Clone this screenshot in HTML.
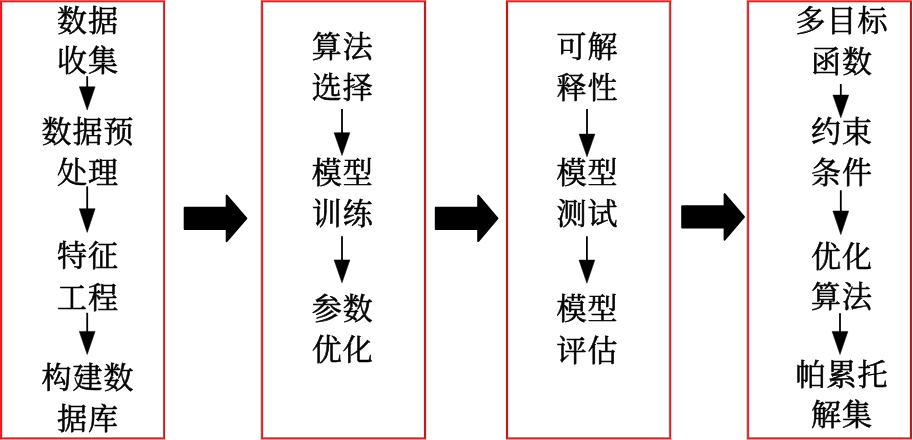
<!DOCTYPE html><html lang="zh"><head><meta charset="utf-8"><title>流程图</title><style>html,body{margin:0;padding:0;background:#fff}svg{display:block}text{font-family:"Liberation Serif", "Noto Serif CJK SC", serif;font-size:30px;fill:#000;text-anchor:middle;letter-spacing:1px;font-weight:400;stroke:#000;stroke-width:0.55px}svg{will-change:transform}</style></head><body>
<svg width="913" height="440" viewBox="0 0 913 440">
<rect width="913" height="440" fill="#fff"/>
<g shape-rendering="crispEdges">
<rect x="0" y="0" width="1" height="440" fill="#ee1e24"/>
<rect x="1" y="0" width="1" height="440" fill="#cd2328"/>
<rect x="2" y="0" width="1" height="440" fill="#fbdcdc"/>
<rect x="162" y="0" width="1" height="440" fill="#fdeaea"/>
<rect x="163" y="0" width="1" height="440" fill="#b24a4e"/>
<rect x="164" y="0" width="1" height="440" fill="#a22a2e"/>
<rect x="165" y="0" width="1" height="440" fill="#fdeaea"/>
<rect x="0" y="0" width="165" height="1" fill="#ff5555"/>
<rect x="0" y="1" width="165" height="1" fill="#c42d30"/>
<rect x="2" y="2" width="161" height="1" fill="#f4bcbc"/>
<rect x="2" y="437" width="161" height="1" fill="#d07c7e"/>
<rect x="0" y="438" width="165" height="1" fill="#b43236"/>
<rect x="0" y="439" width="165" height="1" fill="#ff8787"/>
<rect x="260" y="0" width="1" height="440" fill="#ffc4c4"/>
<rect x="261" y="0" width="1" height="440" fill="#c04448"/>
<rect x="262" y="0" width="1" height="440" fill="#ad363a"/>
<rect x="263" y="0" width="1" height="440" fill="#f3dada"/>
<rect x="423" y="0" width="1" height="440" fill="#fbe4e4"/>
<rect x="424" y="0" width="1" height="440" fill="#c3191e"/>
<rect x="425" y="0" width="1" height="440" fill="#c3191e"/>
<rect x="426" y="0" width="1" height="440" fill="#fbe4e4"/>
<rect x="261" y="0" width="165" height="1" fill="#ff5555"/>
<rect x="261" y="1" width="165" height="1" fill="#c42d30"/>
<rect x="263" y="2" width="161" height="1" fill="#f4bcbc"/>
<rect x="263" y="437" width="161" height="1" fill="#d07c7e"/>
<rect x="261" y="438" width="165" height="1" fill="#b43236"/>
<rect x="261" y="439" width="165" height="1" fill="#ff8787"/>
<rect x="505" y="0" width="1" height="440" fill="#fbe4e4"/>
<rect x="506" y="0" width="1" height="440" fill="#c3191e"/>
<rect x="507" y="0" width="1" height="440" fill="#c3191e"/>
<rect x="508" y="0" width="1" height="440" fill="#fbe4e4"/>
<rect x="668" y="0" width="1" height="440" fill="#f3dada"/>
<rect x="669" y="0" width="1" height="440" fill="#b9585c"/>
<rect x="670" y="0" width="1" height="440" fill="#ad363a"/>
<rect x="671" y="0" width="1" height="440" fill="#ffc0c0"/>
<rect x="506" y="0" width="165" height="1" fill="#ff5555"/>
<rect x="506" y="1" width="165" height="1" fill="#c42d30"/>
<rect x="508" y="2" width="161" height="1" fill="#f4bcbc"/>
<rect x="508" y="437" width="161" height="1" fill="#d07c7e"/>
<rect x="506" y="438" width="165" height="1" fill="#b43236"/>
<rect x="506" y="439" width="165" height="1" fill="#ff8787"/>
<rect x="746" y="0" width="1" height="440" fill="#ffc0c0"/>
<rect x="747" y="0" width="1" height="440" fill="#c04448"/>
<rect x="748" y="0" width="1" height="440" fill="#b04045"/>
<rect x="749" y="0" width="1" height="440" fill="#f3dada"/>
<rect x="909" y="0" width="1" height="440" fill="#fbe4e4"/>
<rect x="910" y="0" width="1" height="440" fill="#c3191e"/>
<rect x="911" y="0" width="1" height="440" fill="#c3191e"/>
<rect x="912" y="0" width="1" height="440" fill="#fdeeee"/>
<rect x="747" y="0" width="165" height="1" fill="#ff5555"/>
<rect x="747" y="1" width="165" height="1" fill="#c42d30"/>
<rect x="749" y="2" width="161" height="1" fill="#f4bcbc"/>
<rect x="749" y="437" width="161" height="1" fill="#d07c7e"/>
<rect x="747" y="438" width="165" height="1" fill="#b43236"/>
<rect x="747" y="439" width="165" height="1" fill="#ff8787"/>
</g>
<defs><filter id="soft" x="-5%" y="-5%" width="110%" height="110%"><feGaussianBlur stdDeviation="0.4"/></filter></defs><g filter="url(#soft)">
<text transform="translate(88 31.33) scale(1 1)">数据</text>
<text transform="translate(88 71.33) scale(1 1)">收集</text>
<text transform="translate(88 142.30) scale(1 1)">数据预</text>
<text transform="translate(88 183.40) scale(1 1)">处理</text>
<text transform="translate(88 266.30) scale(1 1)">特征</text>
<text transform="translate(88 307.55) scale(1 1)">工程</text>
<text transform="translate(88 388.40) scale(1 1)">构建数</text>
<text transform="translate(88 429.45) scale(1 1)">据库</text>
<text transform="translate(342.8 57.30) scale(1 1)">算法</text>
<text transform="translate(342.8 98.45) scale(1 1)">选择</text>
<text transform="translate(342.8 183.45) scale(1 1)">模型</text>
<text transform="translate(342.8 223.60) scale(1 1)">训练</text>
<text transform="translate(342.8 319.40) scale(1 1)">参数</text>
<text transform="translate(342.8 360.45) scale(1 1)">优化</text>
<text transform="translate(587.5 57.40) scale(1 1)">可解</text>
<text transform="translate(587.5 98.45) scale(1 1)">释性</text>
<text transform="translate(587.5 183.45) scale(1 1)">模型</text>
<text transform="translate(587.5 223.55) scale(1 1)">测试</text>
<text transform="translate(587.5 319.25) scale(1 1)">模型</text>
<text transform="translate(587.5 360.60) scale(1 1)">评估</text>
<text transform="translate(842 31.33) scale(1 1)">多目标</text>
<text transform="translate(842 71.60) scale(1 1)">函数</text>
<text transform="translate(842 142.45) scale(1 1)">约束</text>
<text transform="translate(842 183.30) scale(1 1)">条件</text>
<text transform="translate(842 266.60) scale(1 1)">优化</text>
<text transform="translate(842 307.30) scale(1 1)">算法</text>
<text transform="translate(842 384.50) scale(1 1)">帕累托</text>
<text transform="translate(842 425.30) scale(1 1)">解集</text>
</g>
<line x1="87.2" y1="76.25" x2="87.2" y2="88.8" stroke="#000" stroke-width="1.8"/>
<polygon points="79.3,86.8 95.1,86.8 87.2,110" fill="#000" stroke="#000" stroke-width="0.5" stroke-linejoin="round"/>
<line x1="87.2" y1="186.4" x2="87.2" y2="210.7" stroke="#000" stroke-width="1.8"/>
<polygon points="79.3,208.7 95.1,208.7 87.2,232.4" fill="#000" stroke="#000" stroke-width="0.5" stroke-linejoin="round"/>
<line x1="87.2" y1="312.8" x2="87.2" y2="333.4" stroke="#000" stroke-width="1.8"/>
<polygon points="79.3,331.4 95.1,331.4 87.2,354.5" fill="#000" stroke="#000" stroke-width="0.5" stroke-linejoin="round"/>
<line x1="342" y1="108.9" x2="342" y2="134.7" stroke="#000" stroke-width="1.8"/>
<polygon points="334.1,132.7 349.9,132.7 342,155.5" fill="#000" stroke="#000" stroke-width="0.5" stroke-linejoin="round"/>
<line x1="342" y1="236.3" x2="342" y2="261.9" stroke="#000" stroke-width="1.8"/>
<polygon points="334.1,259.9 349.9,259.9 342,282.8" fill="#000" stroke="#000" stroke-width="0.5" stroke-linejoin="round"/>
<line x1="587" y1="108.9" x2="587" y2="136.1" stroke="#000" stroke-width="1.8"/>
<polygon points="579.1,134.1 594.9,134.1 587,156.8" fill="#000" stroke="#000" stroke-width="0.5" stroke-linejoin="round"/>
<line x1="586.9" y1="236.3" x2="586.9" y2="262.1" stroke="#000" stroke-width="1.8"/>
<polygon points="579,260.1 594.8,260.1 586.9,283.2" fill="#000" stroke="#000" stroke-width="0.5" stroke-linejoin="round"/>
<line x1="840.8" y1="84" x2="840.8" y2="97.1" stroke="#000" stroke-width="1.8"/>
<polygon points="832.9,95.1 848.7,95.1 840.8,117.8" fill="#000" stroke="#000" stroke-width="0.5" stroke-linejoin="round"/>
<line x1="840.8" y1="190.3" x2="840.8" y2="213" stroke="#000" stroke-width="1.8"/>
<polygon points="832.9,211 848.7,211 840.8,234.6" fill="#000" stroke="#000" stroke-width="0.5" stroke-linejoin="round"/>
<line x1="840" y1="313.2" x2="840" y2="333.4" stroke="#000" stroke-width="1.8"/>
<polygon points="832.1,331.4 847.9,331.4 840,354.5" fill="#000" stroke="#000" stroke-width="0.5" stroke-linejoin="round"/>
<polygon points="184.70,207.80 184.70,229.00 226.70,229.00 226.70,241.16 246.33,218.40 226.70,195.64 226.70,207.80" fill="#000" stroke="#000" stroke-width="2" stroke-linejoin="round"/>
<polygon points="435.80,207.80 435.80,229.00 478.20,229.00 478.20,241.12 497.44,218.40 478.20,195.68 478.20,207.80" fill="#000" stroke="#000" stroke-width="2" stroke-linejoin="round"/>
<polygon points="682.20,206.30 682.20,227.50 724.60,227.50 724.60,239.63 743.94,216.90 724.60,194.17 724.60,206.30" fill="#000" stroke="#000" stroke-width="2" stroke-linejoin="round"/>
</svg></body></html>
